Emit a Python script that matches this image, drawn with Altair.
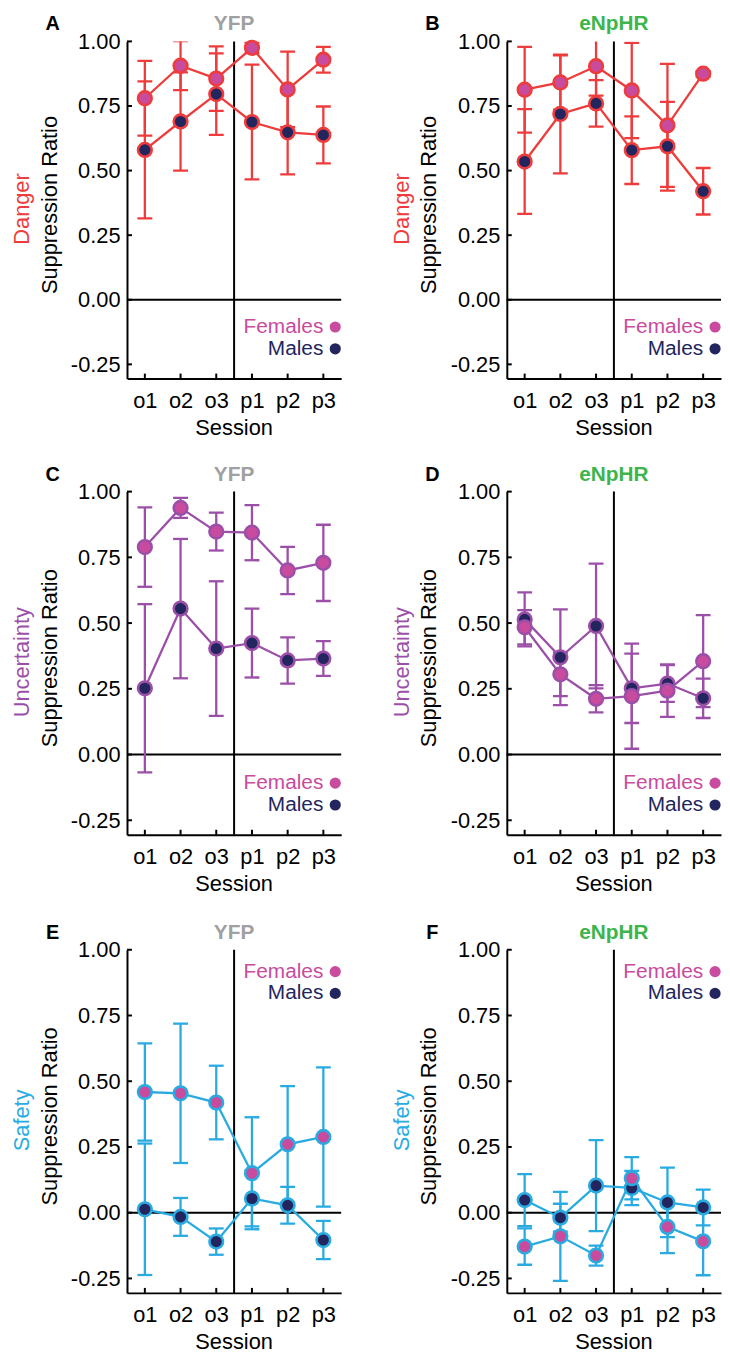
import altair as alt
import pandas as pd

FONT = "Liberation Sans"
RED = "#ee3b3b"
PURPLE = "#9c4fa8"
CYAN = "#29abe2"
MAGENTA = "#c84b9e"
NAVY = "#23265e"
GREEN = "#3db54a"
GRAY = "#a0a0a0"

sessions = ["o1", "o2", "o3", "p1", "p2", "p3"]
y_ticks = [-0.25, 0.0, 0.25, 0.5, 0.75, 1.0]

# Panel A: YFP / Danger
A_f = [0.780, 0.906, 0.856, 0.975, 0.814, 0.929]
A_f_err = [0.145, 0.095, 0.125, 0.020, 0.146, 0.050]
A_m = [0.580, 0.690, 0.796, 0.688, 0.648, 0.638]
A_m_err = [0.265, 0.190, 0.158, 0.222, 0.163, 0.110]
# Panel B: eNpHR / Danger
B_f = [0.813, 0.841, 0.904, 0.810, 0.675, 0.875]
B_f_err = [0.166, 0.105, 0.114, 0.184, 0.238, 0.010]
B_m = [0.535, 0.719, 0.760, 0.579, 0.594, 0.420]
B_m_err = [0.203, 0.230, 0.090, 0.131, 0.172, 0.090]
# Panel C: YFP / Uncertainty
C_f = [0.789, 0.938, 0.848, 0.844, 0.700, 0.729]
C_f_err = [0.151, 0.038, 0.072, 0.105, 0.090, 0.145]
C_m = [0.252, 0.555, 0.403, 0.424, 0.358, 0.365]
C_m_err = [0.320, 0.265, 0.256, 0.131, 0.088, 0.066]
# Panel D: eNpHR / Uncertainty
D_f = [0.484, 0.305, 0.212, 0.222, 0.243, 0.355]
D_f_err = [0.065, 0.083, 0.052, 0.200, 0.100, 0.175]
D_m = [0.514, 0.370, 0.489, 0.252, 0.270, 0.214]
D_m_err = [0.103, 0.182, 0.237, 0.132, 0.070, 0.075]
# Panel E: YFP / Safety
E_f = [0.459, 0.454, 0.419, 0.150, 0.260, 0.288]
E_f_err = [0.185, 0.265, 0.140, 0.213, 0.221, 0.265]
E_m = [0.013, -0.016, -0.110, 0.054, 0.028, -0.104]
E_m_err = [0.250, 0.072, 0.050, 0.106, 0.070, 0.073]
# Panel F: eNpHR / Safety
F_f = [-0.129, -0.090, -0.163, 0.131, -0.054, -0.109]
F_f_err = [0.069, 0.169, 0.038, 0.080, 0.100, 0.129]
F_m = [0.048, -0.019, 0.103, 0.094, 0.039, 0.020]
F_m_err = [0.099, 0.053, 0.173, 0.065, 0.132, 0.068]

W = 216
one = pd.DataFrame({"k": [0]})


def text_layer(txt, x, y, size, color, bold=False, align="center", angle=0, baseline="middle"):
    props = dict(text=txt, font=FONT, fontSize=size, color=color, align=align, baseline=baseline)
    if bold:
        props["fontWeight"] = "bold"
    if angle:
        props["angle"] = angle
    return alt.Chart(one).mark_text(**props).encode(x=alt.value(x), y=alt.value(y))


def make_panel(letter, group, gcolor, cat, ccolor, f, fe, m, me, legend_top, H):
    rows = []
    for i, s in enumerate(sessions):
        rows.append(dict(session=s, sex="Males", ord=0, mean=m[i], lo=m[i] - me[i], hi=m[i] + me[i]))
    for i, s in enumerate(sessions):
        rows.append(dict(session=s, sex="Females", ord=1, mean=f[i], lo=f[i] - fe[i], hi=f[i] + fe[i]))
    df = pd.DataFrame(rows)

    xaxis = alt.Axis(title=None, labelAngle=0, ticks=False, tickSize=0, labelFontSize=22, labelFont=FONT,
                     labelColor="black", labelPadding=29, labelBaseline="alphabetic",
                     domainColor="black", domainWidth=2, grid=False)
    yaxis = alt.Axis(title=None, values=y_ticks, ticks=False, tickSize=0, labelFontSize=22, labelFont=FONT,
                     labelColor="black", labelPadding=7, grid=False, domainColor="black", domainWidth=2,
                     labelExpr="replace(format(datum.value, '.2f'), '\u2212', '-')")
    yscale = alt.Scale(domain=[-0.305, 1.0], nice=False, zero=False)
    X = alt.X("session:O", sort=sessions, scale=alt.Scale(type="point", padding=0.5), axis=xaxis)

    def Y(field):
        return alt.Y(field, type="quantitative", scale=yscale, axis=yaxis)

    base = alt.Chart(df)
    zero = alt.Chart(one).mark_rule(color="black", strokeWidth=2).encode(
        y=alt.YDatum(0, scale=yscale, axis=yaxis))
    vline = alt.Chart(one).mark_rule(color="black", strokeWidth=2).encode(
        x=alt.value(W / 2), y=alt.value(0), y2=alt.value(H))
    xt = alt.Chart(pd.DataFrame({"session": sessions})).mark_rule(color="black", strokeWidth=2).encode(
        x=X, y=alt.value(H), y2=alt.value(H - 5))
    yt = alt.Chart(pd.DataFrame({"t": y_ticks})).mark_rule(color="black", strokeWidth=2).encode(
        y=Y("t"), x=alt.value(0), x2=alt.value(5))
    err = base.mark_rule(color=ccolor, strokeWidth=2.3, clip=True).encode(x=X, y=Y("lo"), y2="hi")
    cap_lo = base.mark_tick(color=ccolor, size=15, thickness=2.3, clip=True, opacity=1).encode(x=X, y=Y("lo"))
    cap_hi = base.mark_tick(color=ccolor, size=15, thickness=2.3, clip=True, opacity=1).encode(x=X, y=Y("hi"))
    lines = base.mark_line(color=ccolor, strokeWidth=2.3).encode(x=X, y=Y("mean"), detail="sex:N")
    pts = base.mark_circle(size=190, stroke=ccolor, strokeWidth=2.6, opacity=1).encode(
        x=X, y=Y("mean"),
        fill=alt.Fill("sex:N", scale=alt.Scale(domain=["Males", "Females"], range=[NAVY, MAGENTA]), legend=None),
        order=alt.Order("ord:Q"))

    if legend_top:
        yf, ym = 22, 44
    else:
        yf, ym = H - 52, H - 30
    texts = [
        text_layer(letter, -75, -17, 20, "black", bold=True),
        text_layer(group, W / 2, -17, 21, gcolor, bold=True),
        text_layer("Suppression Ratio", -78, H / 2 - 5, 22, "black", angle=270),
        text_layer(cat, -106, H / 2 - 1, 22, ccolor, angle=270),
        text_layer("Session", W / 2, H + 57, 22, "black", baseline="alphabetic"),
        text_layer("Females", 198, yf, 21, MAGENTA, align="right"),
        text_layer("Males", 198, ym, 21, NAVY, align="right"),
        alt.Chart(one).mark_circle(size=127, color=MAGENTA, opacity=1).encode(x=alt.value(210), y=alt.value(yf)),
        alt.Chart(one).mark_circle(size=127, color=NAVY, opacity=1).encode(x=alt.value(210), y=alt.value(ym)),
    ]
    return alt.layer(zero, vline, xt, yt, err, cap_lo, cap_hi, lines, pts, *texts).properties(width=W, height=H)


H1 = 340
H2 = 346
pA = make_panel("A", "YFP", GRAY, "Danger", RED, A_f, A_f_err, A_m, A_m_err, False, H1)
pB = make_panel("B", "eNpHR", GREEN, "Danger", RED, B_f, B_f_err, B_m, B_m_err, False, H1)
pC = make_panel("C", "YFP", GRAY, "Uncertainty", PURPLE, C_f, C_f_err, C_m, C_m_err, False, H2)
pD = make_panel("D", "eNpHR", GREEN, "Uncertainty", PURPLE, D_f, D_f_err, D_m, D_m_err, False, H2)
pE = make_panel("E", "YFP", GRAY, "Safety", CYAN, E_f, E_f_err, E_m, E_m_err, True, H2)
pF = make_panel("F", "eNpHR", GREEN, "Safety", CYAN, F_f, F_f_err, F_m, F_m_err, True, H2)

chart = alt.vconcat(
    alt.hconcat(pA, pB, spacing=49),
    alt.vconcat(
        alt.hconcat(pC, pD, spacing=49),
        alt.hconcat(pE, pF, spacing=49),
        spacing=27,
    ),
    spacing=25,
).properties(padding={"left": 3, "top": 0, "right": 0, "bottom": 0}, background="white").configure_view(stroke=None)

chart.save("out.html", embed_options={"renderer": "svg", "actions": False})
